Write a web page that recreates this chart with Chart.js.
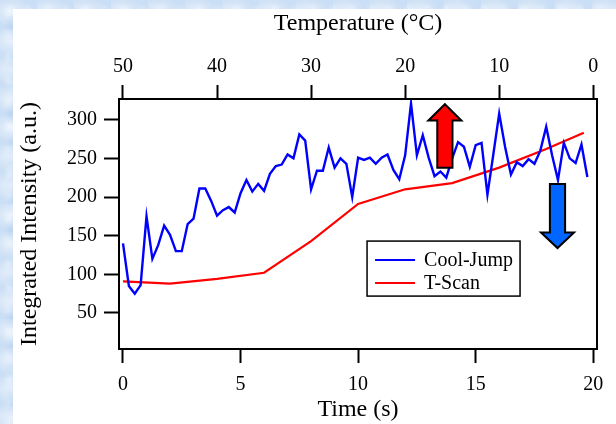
<!DOCTYPE html>
<html>
<head>
<meta charset="utf-8">
<script src="https://cdn.jsdelivr.net/npm/chart.js@4.4.0/dist/chart.umd.min.js"></script>
<style>
  html, body { margin: 0; padding: 0; }
  body {
    width: 616px; height: 424px; overflow: hidden; position: relative;
    background-color: #cadef5;
    background-image:
      radial-gradient(ellipse at 30% 40%, rgba(255,255,255,0.55) 0, rgba(255,255,255,0) 60%),
      radial-gradient(ellipse at 65% 70%, rgba(140,180,230,0.45) 0, rgba(140,180,230,0) 55%),
      radial-gradient(ellipse at 50% 50%, rgba(235,243,252,0.6) 0, rgba(235,243,252,0) 50%);
    background-size: 37px 29px, 29px 41px, 19px 23px;
  }
  #panel { position: absolute; left: 13px; top: 9px; width: 603px; height: 415px; background: #fff; }
  #myChart { position: absolute; left: 0; top: 0; }
</style>
</head>
<body>
<div id="panel"></div>
<canvas id="myChart" width="616" height="424"></canvas>
<script>
// Cool-Jump: one reading every 0.25 s
var coolJumpTimes = [
  0, 0.25, 0.5, 0.75, 1, 1.25, 1.5, 1.75, 2, 2.25, 2.5, 2.75, 3, 3.25, 3.5, 3.75,
  4, 4.25, 4.5, 4.75, 5, 5.25, 5.5, 5.75, 6, 6.25, 6.5, 6.75, 7, 7.25, 7.5, 7.75,
  8, 8.25, 8.5, 8.75, 9, 9.25, 9.5, 9.75, 10, 10.25, 10.5, 10.75, 11, 11.25, 11.5, 11.75,
  12, 12.25, 12.5, 12.75, 13, 13.25, 13.5, 13.75, 14, 14.25, 14.5, 14.75, 15, 15.25, 15.5, 15.75,
  16, 16.25, 16.5, 16.75, 17, 17.25, 17.5, 17.75, 18, 18.25, 18.5, 18.75, 19, 19.25, 19.5, 19.75
];
var coolJumpValues = [
  140, 85, 75, 86, 175, 120, 138, 163, 151, 130, 130, 165, 172, 211, 211, 195,
  176, 183, 187, 180, 205, 222, 207, 217, 208, 230, 240, 242, 255, 250, 281, 273,
  210, 234, 234, 264, 238, 250, 243, 200, 251, 248, 251, 243, 251, 255, 235, 223,
  254, 321, 254, 280, 251, 227, 233, 225, 250, 271, 265, 239, 267, 270, 203, 255,
  308, 265, 229, 245, 240, 249, 243, 260, 291, 254, 222, 270, 250, 244, 268, 226
];

var tScanTimes = [0, 2, 4, 6, 8, 10, 12, 14, 16, 18, 19.6];
var tScanValues = [91, 88, 94, 102, 143, 191, 210, 218, 238, 262, 283];

var timeTicks = [0, 5, 10, 15, 20];
var tempTicks = [50, 40, 30, 20, 10, 0];
var intensityTicks = [50, 100, 150, 200, 250, 300];

// arrows (x in seconds, y in intensity units)
var arrows = [
  { t: 13.69, tip: 320, base: 299, tail: 238, color: "#ff0000" },
  { t: 18.48, tip: 134, base: 154, tail: 217, color: "#0066ff" }
];

function toPoints(xs, ys) {
  return xs.map(function (x, i) { return { x: x, y: ys[i] }; });
}

Chart.defaults.font.family = "'Liberation Serif', 'Times New Roman', serif";
Chart.defaults.color = "#000";

var notes = {
  id: "notes",
  afterDatasetsDraw: function (chart) {
    var ctx = chart.ctx, a = chart.chartArea;
    var xs = chart.scales.x, ys = chart.scales.y;
    ctx.save();

    arrows.forEach(function (ar) {
      var cx = xs.getPixelForValue(ar.t);
      var yTip = ys.getPixelForValue(ar.tip);
      var yBase = ys.getPixelForValue(ar.base);
      var yTail = ys.getPixelForValue(ar.tail);
      var hh = 16.5, sh = 7.6;
      ctx.beginPath();
      ctx.moveTo(cx - sh, yTail);
      ctx.lineTo(cx - sh, yBase);
      ctx.lineTo(cx - hh, yBase);
      ctx.lineTo(cx, yTip);
      ctx.lineTo(cx + hh, yBase);
      ctx.lineTo(cx + sh, yBase);
      ctx.lineTo(cx + sh, yTail);
      ctx.closePath();
      ctx.fillStyle = ar.color;
      ctx.fill();
      ctx.lineWidth = 2;
      ctx.strokeStyle = "#000";
      ctx.stroke();
    });

    // legend box
    var lx = xs.getPixelForValue(10.38), ly = ys.getPixelForValue(143);
    var lw = 153, lh = 55;
    ctx.fillStyle = "#fff";
    ctx.fillRect(lx, ly, lw, lh);
    ctx.lineWidth = 1.5;
    ctx.strokeStyle = "#000";
    ctx.strokeRect(lx, ly, lw, lh);
    ctx.font = "20px 'Liberation Serif', 'Times New Roman', serif";
    ctx.textBaseline = "middle";
    ctx.textAlign = "left";
    chart.data.datasets.forEach(function (ds, i) {
      var y = ly + 19 + i * 23;
      ctx.beginPath();
      ctx.moveTo(lx + 8, y);
      ctx.lineTo(lx + 48, y);
      ctx.strokeStyle = ds.borderColor;
      ctx.lineWidth = 2;
      ctx.stroke();
      ctx.fillStyle = "#000";
      ctx.fillText(ds.label, lx + 57, y + 1);
    });

    // plot frame
    ctx.lineWidth = 2;
    ctx.strokeStyle = "#000";
    ctx.strokeRect(a.left, a.top, a.right - a.left, a.bottom - a.top);
    ctx.restore();
  }
};

var tickGrid = { drawOnChartArea: false, drawTicks: true, tickLength: 14, tickWidth: 2, tickColor: "#000" };

var ctx = document.getElementById("myChart").getContext("2d");
var chart = new Chart(ctx, {
  type: "line",
  data: {
    datasets: [
      {
        label: "Cool-Jump",
        data: toPoints(coolJumpTimes, coolJumpValues),
        borderColor: "#0000ff",
        borderWidth: 2.4,
        pointRadius: 0,
        tension: 0,
        xAxisID: "x",
        yAxisID: "y"
      },
      {
        label: "T-Scan",
        data: toPoints(tScanTimes, tScanValues),
        borderColor: "#ff0000",
        borderWidth: 2.2,
        pointRadius: 0,
        tension: 0,
        xAxisID: "x",
        yAxisID: "y"
      }
    ]
  },
  options: {
    responsive: false,
    animation: false,
    devicePixelRatio: 1,
    layout: { padding: { left: 0, top: 0, right: 19, bottom: 0 } },
    plugins: { legend: { display: false }, tooltip: { enabled: false } },
    scales: {
      x: {
        type: "linear",
        position: "bottom",
        min: -0.17,
        max: 20.16,
        grid: tickGrid,
        border: { display: false },
        afterBuildTicks: function (s) { s.ticks = timeTicks.map(function (v) { return { value: v }; }); },
        ticks: { font: { size: 20 }, padding: 10, maxRotation: 0 },
        title: { display: true, text: "Time (s)", font: { size: 24 }, padding: { top: 0, bottom: 0 } },
        afterFit: function (s) { s.height = 75; s.paddingLeft = 0; s.paddingRight = 0; }
      },
      xTemp: {
        type: "linear",
        position: "top",
        reverse: true,
        min: -0.4,
        max: 50.425,
        grid: tickGrid,
        border: { display: false },
        afterBuildTicks: function (s) { s.ticks = tempTicks.map(function (v) { return { value: v }; }); },
        ticks: { font: { size: 20 }, padding: 6, maxRotation: 0 },
        title: { display: true, text: "Temperature (°C)", font: { size: 24 }, padding: { top: 9, bottom: 0 } },
        afterFit: function (s) { s.height = 99; s.paddingLeft = 0; s.paddingRight = 0; }
      },
      y: {
        type: "linear",
        position: "left",
        min: 3.4,
        max: 326.8,
        grid: { drawOnChartArea: false, drawTicks: true, tickLength: 15, tickWidth: 2, tickColor: "#000" },
        border: { display: false },
        afterBuildTicks: function (s) { s.ticks = intensityTicks.map(function (v) { return { value: v }; }); },
        ticks: { font: { size: 20 }, padding: 7 },
        title: { display: true, text: "Integrated Intensity (a.u.)", font: { size: 24 }, padding: { top: 15, bottom: 0 } },
        afterFit: function (s) { s.width = 119; s.paddingTop = 0; s.paddingBottom = 0; }
      }
    }
  },
  plugins: [notes]
});
</script>
</body>
</html>
